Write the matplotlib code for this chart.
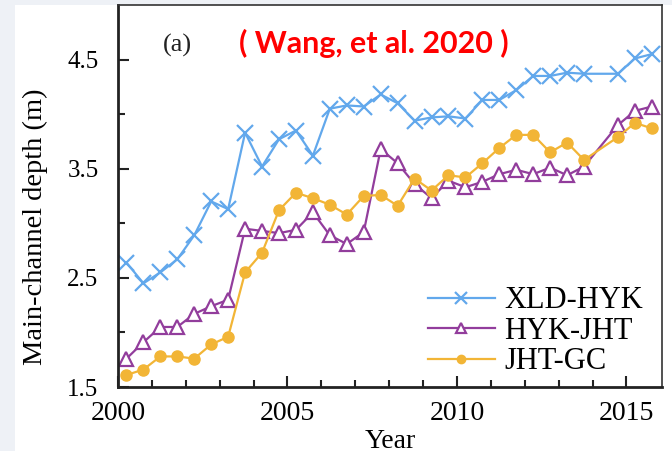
import matplotlib
matplotlib.use("Agg")
import matplotlib.pyplot as plt
from matplotlib.patches import Rectangle

# half-yearly survey times (one survey missing around 2014.25)
years = [2000.25, 2000.75, 2001.25, 2001.75, 2002.25, 2002.75, 2003.25, 2003.75,
         2004.25, 2004.75, 2005.25, 2005.75, 2006.25, 2006.75, 2007.25, 2007.75,
         2008.25, 2008.75, 2009.25, 2009.75, 2010.25, 2010.75, 2011.25, 2011.75,
         2012.25, 2012.75, 2013.25, 2013.75, 2014.75, 2015.25, 2015.75]

xld_hyk = [2.64, 2.45, 2.55, 2.67, 2.89, 3.20, 3.13, 3.83, 3.52, 3.77, 3.85, 3.62,
           4.05, 4.08, 4.07, 4.18, 4.10, 3.94, 3.97, 3.98, 3.96, 4.13, 4.13, 4.22,
           4.35, 4.35, 4.38, 4.37, 4.37, 4.51, 4.55]
hyk_jht = [1.76, 1.91, 2.05, 2.05, 2.17, 2.24, 2.30, 2.95, 2.93, 2.91, 2.94, 3.10,
           2.89, 2.81, 2.92, 3.68, 3.55, 3.36, 3.23, 3.39, 3.33, 3.38, 3.45, 3.49,
           3.45, 3.51, 3.44, 3.52, 3.90, 4.03, 4.07]
jht_gc = [1.61, 1.66, 1.78, 1.78, 1.76, 1.89, 1.96, 2.55, 2.73, 3.12, 3.28, 3.23,
          3.17, 3.08, 3.25, 3.26, 3.16, 3.41, 3.30, 3.44, 3.42, 3.55, 3.69, 3.81,
          3.81, 3.65, 3.74, 3.58, 3.79, 3.92, 3.87]

series_names = ["XLD-HYK", "HYK-JHT", "JHT-GC"]

W, H = 672, 451
fig = plt.figure(figsize=(W / 100, H / 100), dpi=100)
fig.patch.set_facecolor("#eef1f6")
fig.add_artist(Rectangle((15 / W, 0), 1 - 15 / W, 1 - 5 / H, transform=fig.transFigure,
                         facecolor="white", edgecolor="none", zorder=0))

ax = fig.add_axes([118 / W, (H - 387) / H, (662 - 118) / W, (387 - 5) / H])
ax.set_facecolor("white")

serif = "Liberation Serif"

ax.plot(years, xld_hyk, color="#62a8ec", lw=1.6, marker="x", ms=12, mew=1.6,
        label=series_names[0])
ax.plot(years, hyk_jht, color="#923d9c", lw=1.6, marker="^", ms=10, mew=1.6,
        mfc="white", label=series_names[1])
ax.plot(years, jht_gc, color="#f2b536", lw=1.6, marker="o", ms=8,
        label=series_names[2])

ax.set_xlim(2000, 2016.05)
ax.set_ylim(1.5, 5.0)
ax.set_xticks([2000, 2005, 2010, 2015])
ax.set_xticks(range(2001, 2016), minor=True)
ax.set_yticks([1.5, 2.5, 3.5, 4.5])
ax.set_yticks([2.0, 3.0, 4.0], minor=True)
ax.set_xticklabels(["2000", "2005", "2010", "2015"], fontfamily=serif, fontsize=20)
ax.set_yticklabels(["1.5", "2.5", "3.5", "4.5"], fontfamily=serif, fontsize=18)

ax.tick_params(axis="both", which="both", direction="in", color="#222222")
ax.tick_params(axis="both", which="major", length=8, width=1.5)
ax.tick_params(axis="both", which="minor", length=5, width=1.5)
ax.tick_params(axis="x", which="major", pad=10)
ax.tick_params(axis="y", which="major", pad=14)

for side in ["left", "bottom"]:
    ax.spines[side].set_linewidth(2.0)
    ax.spines[side].set_color("#222222")
for side in ["top", "right"]:
    ax.spines[side].set_linewidth(1.2)
    ax.spines[side].set_color("#333333")

ax.set_xlabel("Year", fontfamily=serif, fontsize=20, labelpad=2)
ax.set_ylabel("Main-channel depth (m)", fontfamily=serif, fontsize=20.5)
ax.yaxis.set_label_coords(-0.129, 0.42)

leg = ax.legend(loc="lower right", bbox_to_anchor=(1.015, -0.044), frameon=False,
                prop={"family": serif, "size": 22}, markerscale=0.75,
                handlelength=2.2, handletextpad=0.3, labelspacing=0.05)

fig.text(177 / W, 1 - 45 / H, "(a)", fontfamily=serif, fontsize=19,
         ha="center", va="center", color="#222222")
fig.text(374 / W, 1 - 43 / H, "( Wang, et al. 2020 )", fontfamily="Lato",
         fontweight="bold", fontsize=22, color="#ff0000", ha="center", va="center")

fig.savefig("out.png", dpi=100, facecolor=fig.get_facecolor())
